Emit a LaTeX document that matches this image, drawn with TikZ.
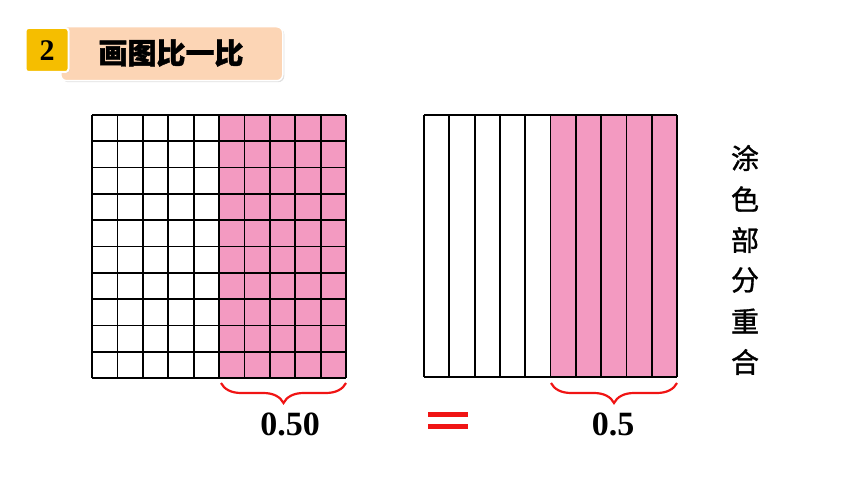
\documentclass[tikz,border=0pt]{standalone}
\usepackage{fontspec}
\setmainfont{Liberation Serif}
\newfontfamily\cjk{Noto Sans CJK SC}[FakeBold=1.2]
\usetikzlibrary{decorations.pathreplacing,shadows}
\definecolor{pinkfill}{RGB}{243,154,193}
\definecolor{peach}{RGB}{252,213,181}
\definecolor{gold}{RGB}{245,190,0}
\definecolor{braceRed}{RGB}{240,20,20}
\tikzset{
  gridline/.style={draw=black,line width=1.8pt},
  redbrace/.style={draw=braceRed,line width=2.2pt,decorate,decoration={brace,amplitude=20pt,aspect=0.5}},
  numlabel/.style={font=\bfseries\fontsize{34}{34}\selectfont,inner sep=0pt},
  cjklabel/.style={font=\cjk\fontsize{28}{28}\selectfont,inner sep=0pt},
}
\begin{document}
\begin{tikzpicture}[x=1pt,y=-1pt]
\useasboundingbox (0,0) rectangle (860,484);
% header
\node[draw=white,line width=1.5pt,fill=peach,rounded corners=6pt,minimum width=222pt,minimum height=54pt,anchor=north west,drop shadow={opacity=0.25,shadow xshift=1.5pt,shadow yshift=-1.5pt}] (hdr) at (60,26) {};
\node[font=\cjk\bfseries\fontsize{29}{29}\selectfont,inner sep=0pt] (title) at (171,53) {画图比一比};
\node[draw=white,line width=2pt,fill=gold,rounded corners=3pt,minimum width=43pt,minimum height=44pt,drop shadow={opacity=0.25,shadow xshift=1pt,shadow yshift=-1pt}] (badge) at (47,50) {};
\node[font=\bfseries\fontsize{30}{30}\selectfont] (num) at (47,51) {2};
% left grid
\fill[pinkfill] (219.2,115) rectangle (346,378);
\foreach \i in {0,...,10} {
  \draw[gridline] ({92+25.4*\i},115) -- ({92+25.4*\i},378);
  \draw[gridline] (92,{115+26.3*\i}) -- (346,{115+26.3*\i});
}
% right grid
\fill[pinkfill] (550.5,115) rectangle (677,377);
\foreach \i in {0,...,10} {
  \draw[gridline] ({424+25.3*\i},115) -- ({424+25.3*\i},377);
}
\draw[gridline] (424,115) -- (677,115);
\draw[gridline] (424,377) -- (677,377);
% braces
\coordinate (lb1) at (221,383);
\coordinate (lb2) at (346,383);
\coordinate (rb1) at (551,383);
\coordinate (rb2) at (677,383);
\draw[redbrace] (lb2) -- (lb1);
\draw[redbrace] (rb2) -- (rb1);
\node[numlabel] (v1) at (290,424) {0.50};
\node[numlabel] (v2) at (613,424) {0.5};
% equals sign
\fill[braceRed] (428,412) rectangle (468,417);
\fill[braceRed] (428,424) rectangle (468,429);
\node[inner sep=0pt] (eq) at (448,420) {};
% vertical text
\node[cjklabel] (c1) at (745,158) {涂};
\node[cjklabel] (c2) at (745,199) {色};
\node[cjklabel] (c3) at (745,240) {部};
\node[cjklabel] (c4) at (745,280) {分};
\node[cjklabel] (c5) at (745,321) {重};
\node[cjklabel] (c6) at (745,362) {合};
\end{tikzpicture}
\end{document}
